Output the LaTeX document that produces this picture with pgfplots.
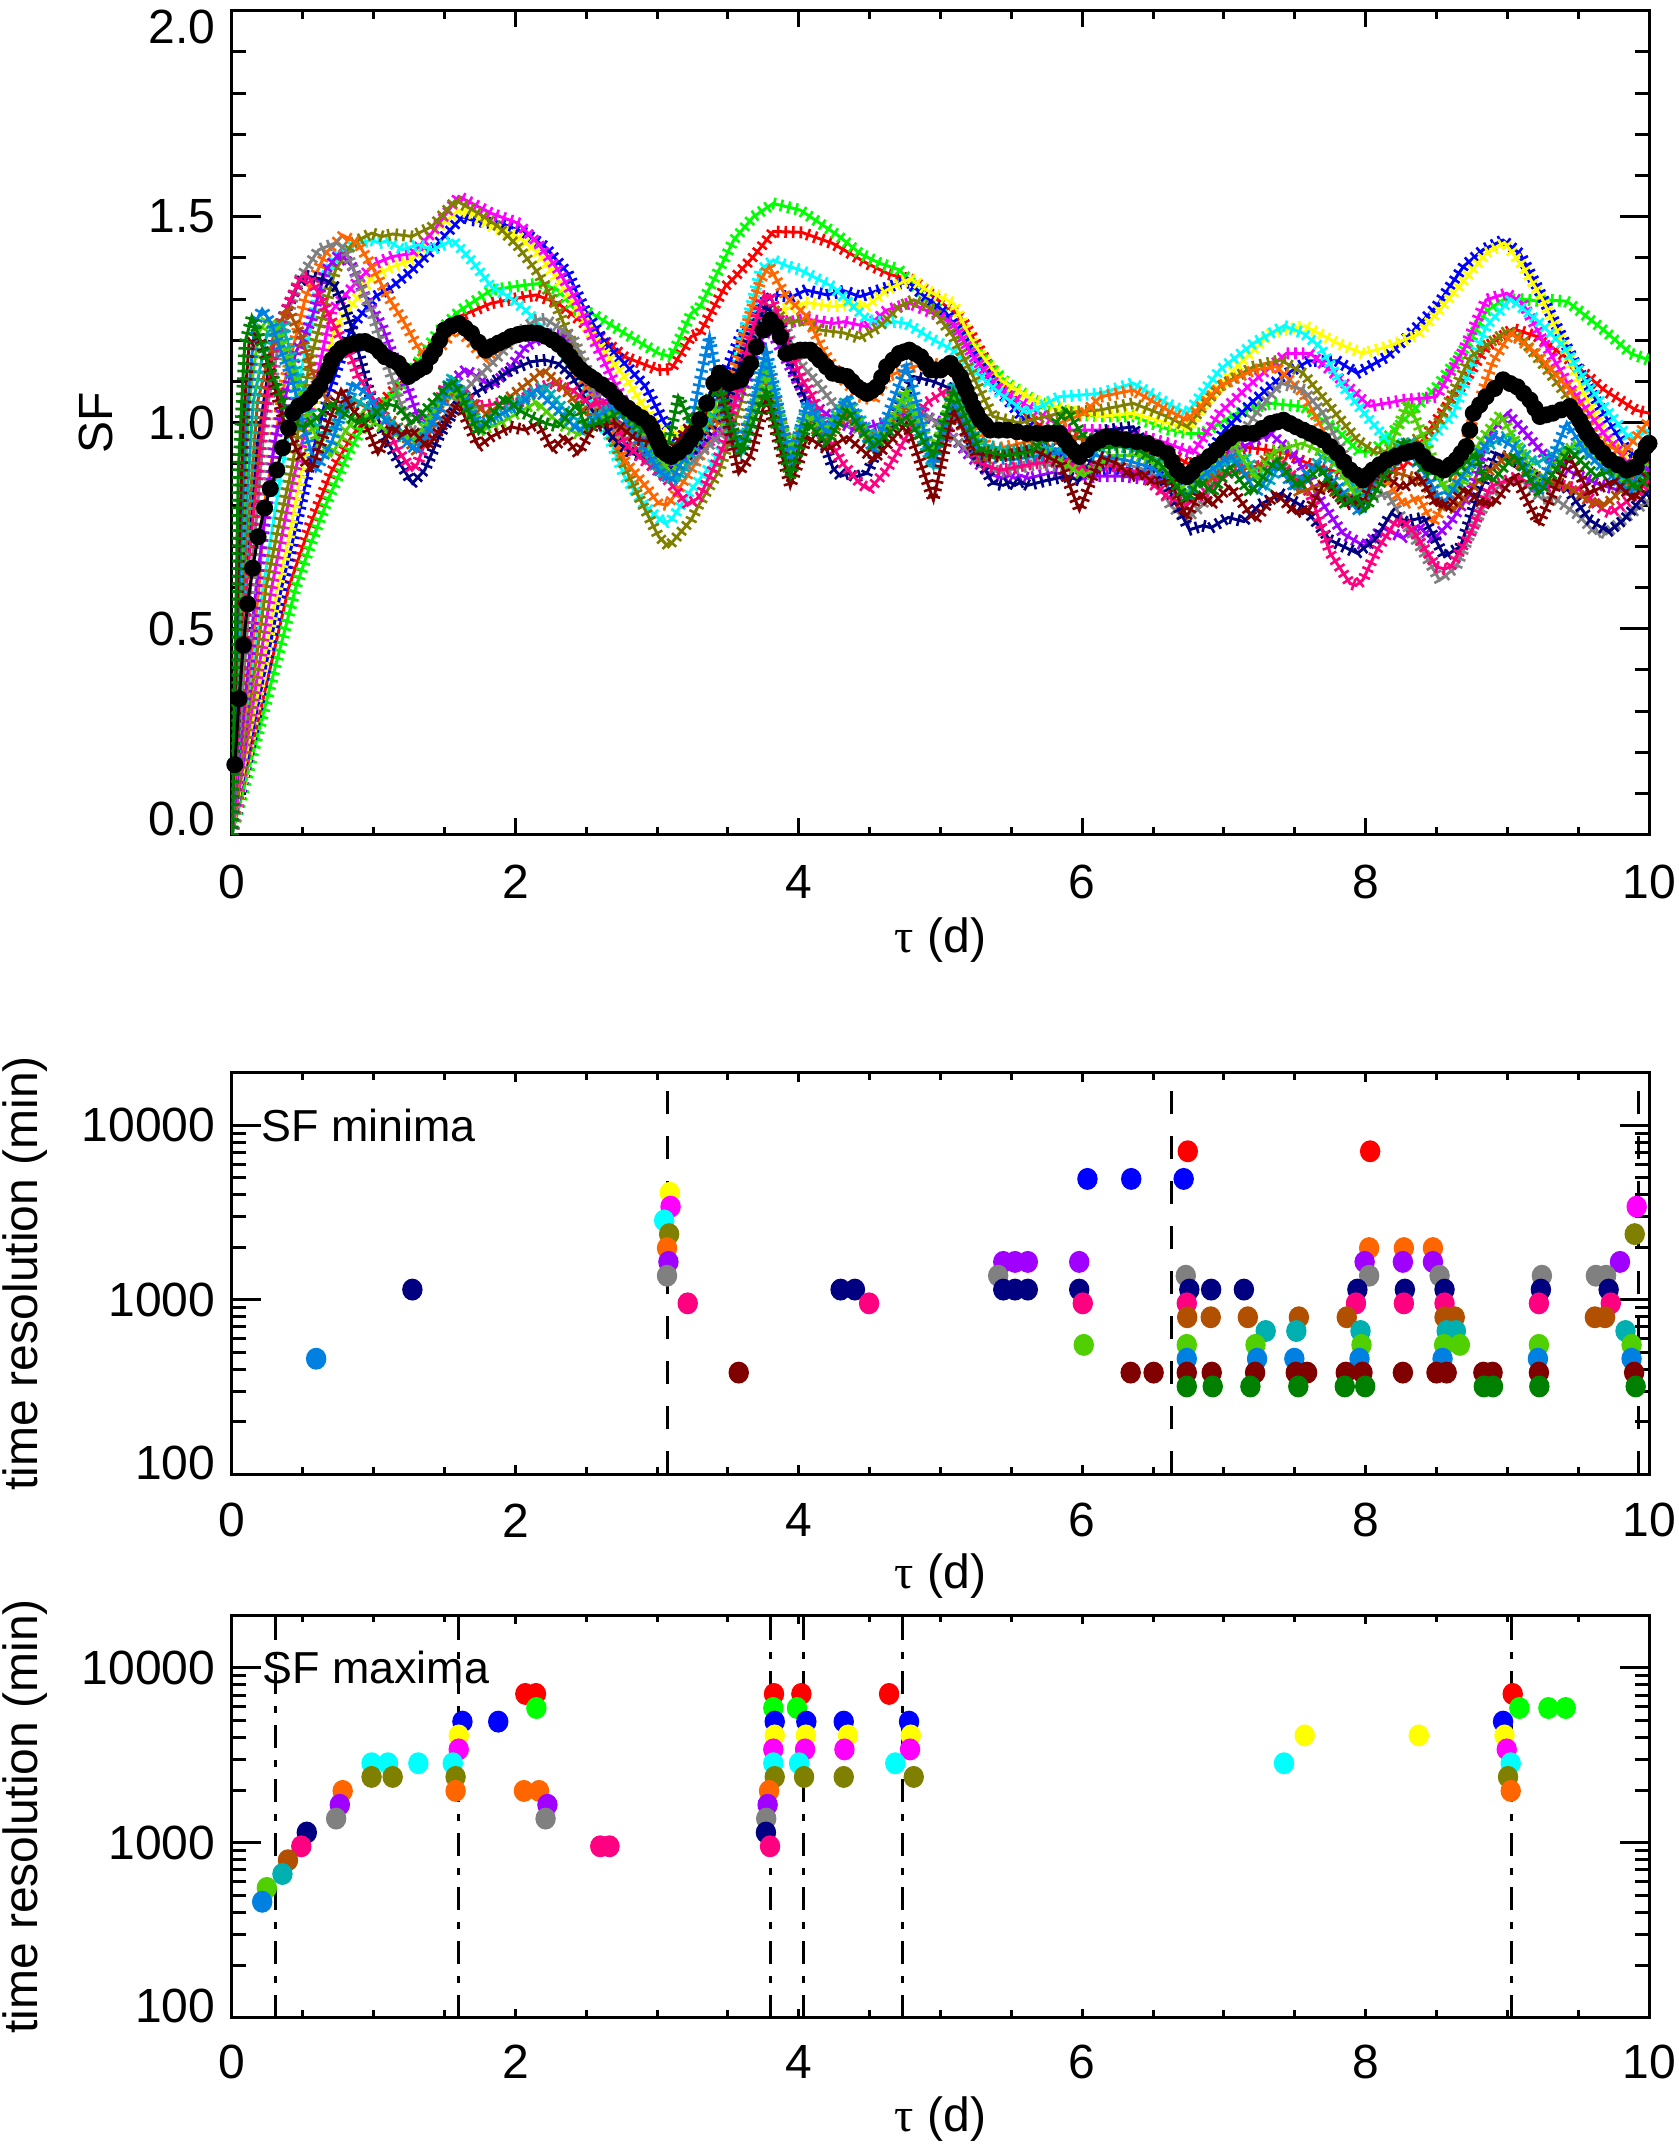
\documentclass[12pt,border=0pt]{standalone}
\usepackage{fontspec}
\setmainfont{Liberation Sans}
\newfontfamily\taufont{Liberation Serif}
\usepackage{pgfplots}
\pgfplotsset{compat=1.18}
\usetikzlibrary{decorations.pathreplacing,decorations.pathmorphing}
\definecolor{cR}{HTML}{FF0000}
\definecolor{cG}{HTML}{00FF00}
\definecolor{cB}{HTML}{0000FF}
\definecolor{cY}{HTML}{FFFF00}
\definecolor{cM}{HTML}{FF00FF}
\definecolor{cC}{HTML}{00FFFF}
\definecolor{cO}{HTML}{808000}
\definecolor{cOr}{HTML}{FF6600}
\definecolor{cP}{HTML}{A000FF}
\definecolor{cGy}{HTML}{808080}
\definecolor{cN}{HTML}{000080}
\definecolor{cPk}{HTML}{FF0080}
\definecolor{cBr}{HTML}{B05000}
\definecolor{cT}{HTML}{00B0B0}
\definecolor{cYG}{HTML}{50D000}
\definecolor{cD}{HTML}{0080E0}
\definecolor{cMa}{HTML}{800000}
\definecolor{cDG}{HTML}{008000}
\pgfplotsset{
  hair/.style={postaction={draw, line width=0.65pt, decorate,
      decoration={ticks, segment length=1.9pt, amplitude=1.5pt}}},
  sdot/.style={color=#1, only marks, mark=*, mark size=2.4pt, mark options={fill=#1, draw=#1, line width=0.3pt, yscale=1.08}},
}
\newcommand{\taulab}{{\taufont τ} (d)}
\begin{document}
\fontsize{12}{14.4}\selectfont
\begin{tikzpicture}
\useasboundingbox (0,0) rectangle (419.75pt,537.5pt);
% ================= TOP PANEL =================
\begin{axis}[scale only axis, width=354.25pt, height=206pt, at={(58pt,328.825pt)}, anchor=south west,
  xmin=0, xmax=10, ymin=0, ymax=2,
  axis line style={line width=0.75pt},
  tick style={black, line width=0.75pt},
  major tick length=7.25pt, minor tick length=3.6pt,
  xtick={0,2,4,6,8,10}, xticklabels={0,2,4,6,8,10}, minor x tick num=3,
  ytick={0,0.5,1,1.5,2},
  yticklabels={\raisebox{4pt}[8.6pt][0pt]{0.0},0.5,1.0,1.5,\raisebox{-4pt}[8.6pt][0pt]{2.0}},
  minor y tick num=4,
  xtick style={/pgfplots/major tick length=4.1pt, /pgfplots/minor tick length=2pt},
  ylabel={SF}, ylabel style={at={(axis description cs:-0.096,0.5)}, anchor=center},
  xlabel={\taulab}, xlabel style={at={(axis description cs:0.5,-0.1274)}, anchor=center},
  xticklabel style={anchor=center, yshift=-11.75pt},
  every axis plot/.append style={line width=0.75pt},
]
% red
\addplot[cR, hair] coordinates {(0,0) (0.40,0.60) (0.55,0.75) (0.70,0.88) (0.85,0.97) (1.0,1.03) (1.2,1.10) (1.4,1.18) (1.6,1.257) (1.83,1.29) (2.07,1.306) (2.145,1.31) (2.30,1.29) (2.54,1.225) (2.77,1.16) (3.01,1.128) (3.10,1.13) (3.24,1.209) (3.30,1.217) (3.48,1.33) (3.54,1.35) (3.68,1.403) (3.82,1.464) (4.02,1.462) (4.24,1.435) (4.48,1.387) (4.64,1.36) (4.81,1.346) (4.95,1.306) (5.14,1.257) (5.28,1.176) (5.42,1.088) (5.61,1.015) (5.8,0.97) (6.0,0.96) (6.2,0.955) (6.4,0.95) (6.6,0.93) (6.75,0.90) (6.9,0.915) (7.16,0.94) (7.4,0.93) (7.6,0.90) (7.75,0.885) (8.03,0.86) (8.15,0.877) (8.27,0.893) (8.50,1.006) (8.69,1.095) (8.85,1.184) (9.04,1.228) (9.21,1.209) (9.44,1.152) (9.68,1.08) (9.91,1.03) (10.0,1.023)};
% green
\addplot[cG, hair] coordinates {(0,0) (0.45,0.60) (0.55,0.70) (0.656,0.796) (0.82,0.925) (0.94,1.0) (1.05,1.04) (1.15,1.07) (1.3,1.14) (1.45,1.22) (1.6,1.27) (1.83,1.322) (2.07,1.334) (2.18,1.338) (2.30,1.322) (2.42,1.274) (2.54,1.265) (2.77,1.217) (3.01,1.168) (3.10,1.16) (3.24,1.265) (3.30,1.28) (3.48,1.40) (3.54,1.443) (3.68,1.50) (3.82,1.532) (4.01,1.516) (4.15,1.484) (4.29,1.451) (4.43,1.411) (4.57,1.387) (4.71,1.371) (4.86,1.314) (5.04,1.257) (5.18,1.201) (5.33,1.144) (5.47,1.096) (5.66,1.055) (5.84,1.031) (6.0,1.02) (6.13,1.015) (6.36,1.015) (6.60,0.985) (6.74,0.974) (6.85,0.974) (7.09,1.023) (7.33,1.047) (7.56,1.039) (7.80,0.982) (7.95,0.93) (8.05,0.93) (8.27,1.006) (8.50,1.087) (8.74,1.20) (8.85,1.27) (8.97,1.298) (9.085,1.30) (9.21,1.296) (9.29,1.298) (9.412,1.295) (9.44,1.29) (9.68,1.225) (9.87,1.168) (10.0,1.152)};
% blue
\addplot[cB, hair] coordinates {(0,0) (0.35,0.60) (0.42,0.70) (0.55,0.90) (0.656,1.047) (0.76,1.15) (0.845,1.233) (1.01,1.306) (1.13,1.33) (1.27,1.37) (1.41,1.419) (1.626,1.50) (1.69,1.492) (1.83,1.484) (1.88,1.487) (2.07,1.46) (2.21,1.427) (2.37,1.363) (2.49,1.274) (2.63,1.193) (2.77,1.144) (2.92,1.087) (3.05,1.0) (3.15,0.96) (3.30,1.00) (3.48,1.12) (3.60,1.22) (3.70,1.28) (3.83,1.31) (3.95,1.305) (4.05,1.322) (4.2,1.31) (4.32,1.32) (4.43,1.306) (4.57,1.322) (4.71,1.338) (4.78,1.34) (4.86,1.314) (5.04,1.266) (5.18,1.193) (5.33,1.112) (5.47,1.055) (5.61,1.0) (5.8,0.93) (6.04,0.88) (6.2,0.89) (6.35,0.875) (6.5,0.89) (6.72,0.86) (6.85,0.90) (7.0,0.98) (7.2,1.05) (7.4,1.11) (7.6,1.15) (7.8,1.15) (7.94,1.12) (8.15,1.16) (8.27,1.2) (8.50,1.282) (8.69,1.379) (8.83,1.42) (8.97,1.443) (9.09,1.41) (9.21,1.33) (9.35,1.233) (9.49,1.136) (9.68,1.023) (9.87,0.917) (10.0,0.93)};
% yellow
\addplot[cY, hair] coordinates {(0,0) (0.32,0.60) (0.40,0.72) (0.49,0.885) (0.60,1.08) (0.73,1.233) (0.89,1.306) (0.99,1.354) (1.13,1.378) (1.27,1.395) (1.41,1.46) (1.60,1.516) (1.69,1.508) (1.83,1.476) (2.02,1.452) (2.16,1.411) (2.30,1.346) (2.44,1.274) (2.54,1.21) (2.77,1.112) (3.01,0.982) (3.09,0.966) (3.24,0.99) (3.48,1.047) (3.60,1.15) (3.70,1.23) (3.83,1.27) (3.95,1.28) (4.05,1.292) (4.24,1.282) (4.35,1.287) (4.48,1.282) (4.62,1.322) (4.79,1.35) (4.90,1.322) (5.09,1.29) (5.23,1.193) (5.42,1.104) (5.66,1.055) (5.89,1.031) (6.13,1.015) (6.36,1.023) (6.60,0.999) (6.75,0.985) (6.85,1.04) (7.09,1.136) (7.33,1.217) (7.57,1.235) (7.80,1.193) (7.98,1.168) (8.15,1.184) (8.375,1.215) (8.62,1.314) (8.85,1.411) (8.98,1.437) (9.11,1.379) (9.25,1.298) (9.40,1.184) (9.54,1.071) (9.68,0.974) (9.87,0.901) (10.0,0.925)};
% magenta
\addplot[cM, hair] coordinates {(0,0) (0.28,0.60) (0.42,0.845) (0.56,1.047) (0.70,1.27) (0.89,1.346) (1.01,1.386) (1.13,1.403) (1.27,1.411) (1.41,1.46) (1.60,1.549) (1.83,1.508) (2.02,1.484) (2.16,1.435) (2.30,1.371) (2.44,1.29) (2.54,1.21) (2.77,1.047) (3.01,0.925) (3.09,0.90) (3.20,0.91) (3.48,0.982) (3.65,1.15) (3.82,1.25) (3.95,1.245) (4.044,1.252) (4.24,1.241) (4.32,1.245) (4.48,1.233) (4.62,1.273) (4.785,1.29) (4.95,1.265) (5.09,1.241) (5.23,1.16) (5.42,1.08) (5.66,1.031) (5.89,0.982) (6.13,0.982) (6.36,0.974) (6.60,0.95) (6.78,0.926) (6.97,1.023) (7.21,1.10) (7.44,1.168) (7.61,1.168) (7.80,1.112) (8.03,1.04) (8.27,1.055) (8.50,1.063) (8.69,1.176) (8.85,1.298) (8.996,1.314) (9.11,1.29) (9.25,1.2) (9.44,1.087) (9.68,0.974) (9.87,0.893) (9.913,0.885) (10.0,0.89)};
% cyan
\addplot[cC, hair] coordinates {(0,0) (0.22,0.60) (0.35,0.885) (0.49,1.128) (0.62,1.33) (0.75,1.411) (0.89,1.435) (0.985,1.443) (1.04,1.436) (1.101,1.442) (1.2,1.42) (1.315,1.432) (1.41,1.419) (1.558,1.443) (1.69,1.394) (1.83,1.33) (1.95,1.306) (2.07,1.274) (2.21,1.225) (2.30,1.193) (2.42,1.128) (2.54,1.047) (2.66,0.966) (2.77,0.869) (2.92,0.796) (3.05,0.756) (3.10,0.764) (3.24,0.837) (3.39,0.901) (3.48,0.95) (3.60,1.2) (3.73,1.371) (3.82,1.395) (3.92,1.38) (4.002,1.372) (4.24,1.33) (4.36,1.29) (4.48,1.25) (4.62,1.241) (4.681,1.245) (4.76,1.241) (4.95,1.201) (5.09,1.176) (5.23,1.128) (5.42,1.071) (5.61,1.023) (5.84,1.063) (6.13,1.071) (6.36,1.096) (6.60,1.047) (6.74,1.023) (6.97,1.128) (7.21,1.193) (7.424,1.235) (7.56,1.217) (7.68,1.184) (7.84,1.087) (8.03,1.006) (8.15,0.958) (8.38,0.926) (8.62,1.023) (8.85,1.233) (9.024,1.30) (9.21,1.249) (9.40,1.184) (9.58,1.087) (9.72,1.023) (9.87,0.958) (10.0,0.982)};
% olive
\addplot[cO, hair] coordinates {(0,0) (0.24,0.60) (0.33,0.75) (0.42,0.885) (0.55,1.15) (0.73,1.37) (0.85,1.435) (0.985,1.46) (1.06,1.452) (1.134,1.458) (1.27,1.452) (1.41,1.476) (1.578,1.54) (1.74,1.508) (1.88,1.476) (2.02,1.427) (2.16,1.363) (2.30,1.274) (2.44,1.16) (2.58,1.047) (2.73,0.925) (2.87,0.82) (3.01,0.724) (3.08,0.699) (3.24,0.764) (3.30,0.804) (3.44,0.885) (3.59,1.047) (3.73,1.225) (3.83,1.274) (3.91,1.241) (4.037,1.25) (4.15,1.225) (4.317,1.218) (4.43,1.205) (4.57,1.233) (4.71,1.282) (4.811,1.298) (4.95,1.274) (5.09,1.209) (5.23,1.112) (5.37,1.015) (5.56,0.999) (5.84,1.023) (6.13,1.031) (6.36,1.047) (6.60,1.015) (6.74,0.99) (6.97,1.088) (7.21,1.136) (7.40,1.152) (7.56,1.12) (7.75,1.039) (7.94,0.958) (8.08,0.926) (8.27,0.942) (8.50,0.99) (8.74,1.16) (9.005,1.225) (9.11,1.201) (9.30,1.12) (9.44,1.055) (9.68,0.926) (9.87,0.828) (9.90,0.825) (10.0,0.836)};
% orange
\addplot[cOr, hair] coordinates {(0,0) (0.19,0.60) (0.23,0.804) (0.37,1.096) (0.52,1.306) (0.66,1.411) (0.781,1.455) (0.89,1.435) (0.99,1.378) (1.10,1.306) (1.22,1.241) (1.31,1.184) (1.39,1.152) (1.50,1.193) (1.578,1.233) (1.69,1.193) (1.79,1.152) (1.93,1.193) (2.06,1.217) (2.12,1.21) (2.167,1.215) (2.30,1.193) (2.40,1.144) (2.49,1.087) (2.63,1.031) (2.77,0.909) (2.92,0.845) (3.01,0.804) (3.07,0.80) (3.10,0.812) (3.24,0.885) (3.39,0.966) (3.48,1.047) (3.60,1.2) (3.73,1.346) (3.79,1.38) (3.91,1.306) (4.06,1.257) (4.17,1.176) (4.29,1.112) (4.43,1.063) (4.53,1.055) (4.62,1.112) (4.81,1.136) (4.95,1.144) (5.09,1.128) (5.23,1.047) (5.33,0.934) (5.47,0.942) (5.66,0.958) (5.84,0.999) (6.0,1.02) (6.13,1.063) (6.36,1.079) (6.60,1.031) (6.74,1.006) (6.97,1.088) (7.21,1.128) (7.37,1.136) (7.56,1.071) (7.75,0.95) (7.90,0.87) (8.025,0.84) (8.15,0.86) (8.27,0.80) (8.37,0.82) (8.475,0.756) (8.6,0.83) (8.75,1.0) (8.9,1.15) (9.024,1.217) (9.2,1.17) (9.44,1.08) (9.63,0.958) (9.82,0.926) (10.0,1.006)};
% purple
\addplot[cP, hair] coordinates {(0,0) (0.17,0.60) (0.30,0.95) (0.45,1.17) (0.56,1.249) (0.66,1.37) (0.761,1.412) (0.85,1.378) (0.94,1.306) (1.06,1.233) (1.13,1.168) (1.22,1.104) (1.31,1.015) (1.36,1.007) (1.46,1.047) (1.55,1.10) (1.65,1.13) (1.83,1.087) (1.97,1.136) (2.07,1.184) (2.226,1.215) (2.35,1.21) (2.44,1.16) (2.54,1.087) (2.68,1.015) (2.82,0.982) (3.01,0.925) (3.08,0.885) (3.24,0.917) (3.48,0.999) (3.65,1.12) (3.78,1.24) (3.90,1.16) (4.05,1.06) (4.2,1.02) (4.4,0.98) (4.6,1.0) (4.8,1.03) (5.0,1.0) (5.2,0.92) (5.35,0.875) (5.443,0.865) (5.49,0.872) (5.526,0.865) (5.57,0.872) (5.616,0.865) (5.8,0.88) (5.979,0.862) (6.1,0.87) (6.3,0.87) (6.5,0.86) (6.6,0.87) (6.8,0.88) (7.0,0.92) (7.33,0.974) (7.51,0.917) (7.68,0.812) (7.84,0.731) (7.993,0.70) (8.12,0.745) (8.263,0.72) (8.37,0.75) (8.475,0.715) (8.6,0.76) (8.74,0.828) (8.88,0.974) (9.0,1.023) (9.11,0.982) (9.25,0.926) (9.45,0.88) (9.65,0.85) (9.795,0.835) (9.9,0.86) (10.0,0.89)};
% gray
\addplot[cGy, hair] coordinates {(0,0) (0.13,0.60) (0.23,1.0) (0.33,1.193) (0.47,1.346) (0.61,1.419) (0.735,1.437) (0.80,1.419) (0.89,1.346) (0.99,1.266) (1.08,1.16) (1.17,1.063) (1.27,0.982) (1.36,0.966) (1.46,0.999) (1.60,1.063) (1.74,1.112) (1.88,1.16) (2.02,1.217) (2.14,1.249) (2.213,1.252) (2.26,1.241) (2.40,1.209) (2.49,1.144) (2.58,1.047) (2.77,0.966) (3.01,0.885) (3.07,0.86) (3.15,0.87) (3.48,0.982) (3.65,1.18) (3.77,1.29) (3.91,1.225) (4.01,1.144) (4.13,1.096) (4.3,1.02) (4.5,0.96) (4.7,1.0) (4.9,1.02) (5.1,0.96) (5.3,0.90) (5.407,0.88) (5.55,0.89) (5.7,0.90) (5.9,0.89) (6.1,0.90) (6.3,0.90) (6.5,0.88) (6.62,0.80) (6.731,0.764) (6.85,0.80) (7.0,0.90) (7.21,1.015) (7.40,1.096) (7.56,1.08) (7.70,1.023) (7.85,0.92) (8.025,0.812) (8.15,0.83) (8.27,0.76) (8.40,0.69) (8.522,0.618) (8.64,0.65) (8.74,0.731) (8.88,0.828) (9.0,0.86) (9.1,0.86) (9.244,0.815) (9.32,0.82) (9.51,0.772) (9.625,0.731) (9.66,0.737) (9.697,0.73) (9.80,0.76) (10.0,0.812)};
% navy
\addplot[cN, hair] coordinates {(0,0) (0.10,0.60) (0.18,0.95) (0.28,1.18) (0.37,1.265) (0.47,1.338) (0.528,1.356) (0.66,1.346) (0.73,1.33) (0.80,1.274) (0.85,1.225) (0.92,1.136) (0.99,1.047) (1.08,0.966) (1.17,0.909) (1.273,0.853) (1.36,0.885) (1.46,0.966) (1.60,1.047) (1.83,1.096) (1.97,1.128) (2.11,1.148) (2.21,1.152) (2.30,1.144) (2.40,1.112) (2.54,1.031) (2.68,0.966) (2.82,0.925) (3.01,0.909) (3.10,0.885) (3.30,0.95) (3.48,1.047) (3.66,1.209) (3.768,1.285) (3.87,1.241) (3.96,1.128) (4.06,1.047) (4.15,0.982) (4.24,0.89) (4.295,0.87) (4.35,0.877) (4.396,0.868) (4.48,0.877) (4.60,0.966) (4.81,1.112) (4.95,1.10) (5.09,1.08) (5.25,0.925) (5.37,0.853) (5.443,0.848) (5.49,0.856) (5.526,0.848) (5.57,0.856) (5.616,0.848) (5.75,0.86) (5.89,0.87) (5.979,0.86) (6.05,0.9) (6.13,0.98) (6.36,0.99) (6.55,0.88) (6.756,0.74) (6.85,0.75) (6.910,0.745) (7.03,0.77) (7.141,0.76) (7.25,0.80) (7.40,0.828) (7.56,0.796) (7.75,0.715) (7.942,0.683) (8.08,0.72) (8.18,0.78) (8.277,0.76) (8.41,0.77) (8.557,0.675) (8.67,0.70) (8.78,0.812) (8.92,0.926) (9.09,0.90) (9.237,0.855) (9.40,0.85) (9.58,0.764) (9.715,0.735) (9.82,0.764) (10.0,0.836)};
% pink
\addplot[cPk, hair] coordinates {(0,0) (0.10,0.60) (0.20,0.95) (0.30,1.2) (0.40,1.29) (0.489,1.355) (0.54,1.354) (0.61,1.314) (0.70,1.249) (0.85,1.152) (0.89,1.112) (0.99,1.063) (1.08,1.007) (1.17,0.934) (1.27,0.885) (1.31,0.901) (1.41,0.999) (1.50,1.087) (1.60,1.079) (1.74,1.039) (1.88,1.047) (2.02,1.047) (2.14,1.079) (2.26,1.096) (2.40,1.08) (2.54,1.04) (2.599,1.05) (2.63,1.045) (2.664,1.05) (2.77,0.95) (2.9,0.91) (3.05,0.87) (3.15,0.83) (3.216,0.80) (3.3,0.82) (3.48,0.95) (3.65,1.2) (3.75,1.306) (3.797,1.31) (3.91,1.209) (4.01,1.112) (4.10,1.063) (4.20,0.966) (4.31,0.901) (4.43,0.853) (4.496,0.837) (4.62,0.885) (4.76,0.966) (4.90,1.047) (5.04,1.079) (5.15,1.0) (5.28,0.901) (5.42,0.885) (5.66,0.901) (5.89,0.909) (6.004,0.88) (6.15,0.90) (6.4,0.88) (6.6,0.82) (6.738,0.80) (6.9,0.84) (7.05,0.88) (7.21,0.893) (7.40,0.90) (7.61,0.828) (7.75,0.683) (7.89,0.61) (7.932,0.605) (7.98,0.618) (8.08,0.691) (8.22,0.764) (8.27,0.76) (8.35,0.73) (8.50,0.65) (8.557,0.645) (8.60,0.65) (8.74,0.731) (8.88,0.845) (9.07,0.869) (9.223,0.84) (9.35,0.85) (9.5,0.84) (9.68,0.788) (9.73,0.78) (9.85,0.81) (10.0,0.86)};
% brown
\addplot[cBr, hair] coordinates {(0,0) (0.08,0.6) (0.18,1.05) (0.3,1.22) (0.395,1.275) (0.49,1.209) (0.56,1.128) (0.66,1.06) (0.75,1.031) (0.87,1.05) (0.99,1.031) (1.15,1.00) (1.3,0.93) (1.45,1.04) (1.55,1.08) (1.65,1.06) (1.8,1.02) (1.95,1.06) (2.1,1.10) (2.2,1.128) (2.35,1.08) (2.5,1.02) (2.65,1.02) (2.8,0.98) (3.0,0.90) (3.1,0.88) (3.3,0.97) (3.44,1.02) (3.59,0.95) (3.77,1.13) (3.94,0.93) (4.06,1.00) (4.2,0.96) (4.34,1.03) (4.53,0.95) (4.76,1.04) (4.95,0.90) (5.09,1.02) (5.3,0.91) (5.5,0.93) (5.7,0.95) (5.9,0.97) (6.1,0.95) (6.3,0.96) (6.5,0.93) (6.741,0.86) (6.82,0.88) (6.907,0.86) (7.05,0.92) (7.169,0.87) (7.35,0.93) (7.529,0.83) (7.7,0.85) (7.867,0.81) (8.0,0.86) (8.2,0.88) (8.4,0.86) (8.557,0.79) (8.59,0.80) (8.629,0.79) (8.8,0.86) (9.0,0.92) (9.2,0.87) (9.4,0.85) (9.618,0.80) (9.65,0.81) (9.690,0.80) (9.85,0.85) (10.0,0.93)};
% teal
\addplot[cT, hair] coordinates {(0,0) (0.065,0.6) (0.15,1.05) (0.25,1.22) (0.356,1.242) (0.42,1.16) (0.49,1.096) (0.61,0.974) (0.7,0.98) (0.85,1.06) (1.0,1.03) (1.15,0.99) (1.3,0.95) (1.45,1.05) (1.55,1.11) (1.65,1.06) (1.75,0.99) (1.9,1.02) (2.05,1.06) (2.2,1.09) (2.35,1.03) (2.5,0.99) (2.65,1.03) (2.75,1.05) (2.9,0.95) (3.05,0.87) (3.15,0.86) (3.3,0.97) (3.44,1.04) (3.59,0.92) (3.77,1.15) (3.94,0.91) (4.06,1.04) (4.2,0.99) (4.34,1.06) (4.53,0.96) (4.76,1.06) (4.95,0.89) (5.09,1.09) (5.28,0.95) (5.5,0.93) (5.75,0.94) (6.0,0.92) (6.2,0.95) (6.4,0.93) (6.6,0.90) (6.8,0.86) (7.0,0.90) (7.15,0.92) (7.295,0.84) (7.4,0.90) (7.511,0.85) (7.7,0.92) (7.85,0.88) (7.964,0.82) (8.1,0.88) (8.3,0.96) (8.45,0.90) (8.572,0.83) (8.6,0.84) (8.637,0.83) (8.8,0.93) (9.0,0.97) (9.2,0.90) (9.4,0.94) (9.6,0.93) (9.75,0.88) (9.834,0.86) (10.0,0.93)};
% yellowgreen
\addplot[cYG, hair] coordinates {(0,0) (0.055,0.6) (0.12,1.05) (0.19,1.22) (0.246,1.25) (0.32,1.22) (0.40,1.15) (0.50,1.05) (0.60,0.96) (0.70,0.92) (0.8,0.98) (0.9,1.02) (1.0,1.0) (1.15,0.97) (1.3,0.96) (1.45,1.04) (1.55,1.08) (1.65,1.05) (1.75,0.98) (1.9,1.0) (2.05,1.03) (2.15,1.05) (2.3,1.0) (2.45,0.97) (2.6,1.01) (2.7,1.03) (2.85,0.98) (3.02,0.91) (3.1,0.88) (3.25,0.95) (3.4,1.05) (3.59,0.94) (3.77,1.12) (3.94,0.92) (4.06,1.02) (4.2,0.97) (4.34,1.05) (4.53,0.93) (4.76,1.08) (4.95,0.92) (5.09,1.07) (5.28,0.93) (5.5,0.92) (5.75,0.93) (6.011,0.87) (6.2,0.92) (6.4,0.92) (6.6,0.88) (6.738,0.83) (6.85,0.88) (7.05,0.96) (7.223,0.86) (7.35,0.93) (7.55,0.95) (7.75,0.92) (7.971,0.80) (8.1,0.88) (8.3,1.05) (8.45,0.93) (8.554,0.84) (8.61,0.85) (8.665,0.84) (8.8,0.95) (8.95,1.02) (9.05,0.96) (9.223,0.85) (9.4,0.93) (9.55,0.96) (9.7,0.90) (9.877,0.83) (10.0,0.92)};
% dodgerblue
\addplot[cD, hair] coordinates {(0,0) (0.05,0.6) (0.1,1.0) (0.16,1.24) (0.213,1.275) (0.28,1.24) (0.35,1.17) (0.42,1.112) (0.50,1.0) (0.594,0.885) (0.70,0.95) (0.85,1.096) (0.95,1.07) (1.05,1.02) (1.15,0.98) (1.3,0.93) (1.45,1.02) (1.55,1.10) (1.65,1.05) (1.75,0.99) (1.9,1.02) (2.05,1.05) (2.15,1.08) (2.3,1.03) (2.45,0.98) (2.6,1.02) (2.7,1.04) (2.85,0.97) (3.02,0.88) (3.1,0.86) (3.2,0.92) (3.3,1.1) (3.37,1.21) (3.45,1.05) (3.59,0.93) (3.77,1.18) (3.94,0.90) (4.06,1.05) (4.2,0.97) (4.34,1.06) (4.53,0.93) (4.76,1.14) (4.95,0.90) (5.09,1.05) (5.28,0.92) (5.5,0.91) (5.7,0.92) (5.9,0.93) (6.1,0.92) (6.3,0.91) (6.5,0.89) (6.738,0.82) (6.85,0.87) (7.05,0.92) (7.234,0.83) (7.37,0.90) (7.497,0.84) (7.65,0.90) (7.80,0.85) (7.957,0.78) (8.1,0.88) (8.3,0.93) (8.45,0.86) (8.543,0.80) (8.7,0.88) (8.9,0.97) (9.05,0.94) (9.216,0.83) (9.42,1.0) (9.55,0.93) (9.7,0.88) (9.877,0.83) (10.0,0.96)};
% maroon
\addplot[cMa, hair] coordinates {(0,0) (0.04,0.6) (0.08,1.0) (0.12,1.192) (0.19,1.209) (0.28,1.112) (0.37,0.999) (0.47,0.925) (0.56,0.885) (0.66,0.982) (0.77,1.08) (0.85,1.031) (0.94,0.999) (1.03,0.925) (1.13,0.99) (1.2,0.97) (1.27,0.982) (1.38,0.94) (1.50,1.00) (1.60,1.047) (1.74,0.942) (1.83,0.966) (1.97,0.99) (2.07,0.982) (2.16,1.0) (2.26,0.934) (2.35,0.966) (2.44,0.925) (2.55,0.99) (2.70,1.0) (2.85,0.96) (3.0,0.95) (3.07,0.92) (3.2,0.98) (3.30,1.02) (3.44,1.095) (3.576,0.877) (3.66,0.92) (3.77,1.063) (3.94,0.845) (4.06,0.966) (4.20,0.934) (4.34,0.966) (4.53,0.909) (4.76,0.999) (4.95,0.812) (5.09,1.031) (5.25,0.925) (5.42,0.917) (5.66,0.934) (5.85,0.90) (5.98,0.788) (6.13,0.917) (6.25,0.90) (6.342,0.869) (6.42,0.88) (6.504,0.853) (6.62,0.86) (6.738,0.772) (6.83,0.83) (6.914,0.80) (7.04,0.845) (7.22,0.764) (7.37,0.828) (7.507,0.78) (7.55,0.79) (7.587,0.78) (7.72,0.86) (7.86,0.80) (7.92,0.81) (7.978,0.80) (8.08,0.885) (8.263,0.84) (8.38,0.87) (8.50,0.80) (8.54,0.81) (8.572,0.79) (8.7,0.84) (8.831,0.80) (8.86,0.81) (8.896,0.80) (9.05,0.87) (9.223,0.756) (9.44,0.918) (9.58,0.828) (9.75,0.86) (9.895,0.813) (10.0,0.88)};
% darkgreen
\addplot[cDG, hair] coordinates {(0,0) (0.03,0.6) (0.045,0.885) (0.09,1.193) (0.14,1.257) (0.2,1.2) (0.28,1.12) (0.42,0.999) (0.515,0.99) (0.61,1.015) (0.70,1.047) (0.80,1.02) (0.89,0.999) (0.99,1.015) (1.08,1.047) (1.17,1.039) (1.27,0.999) (1.41,1.047) (1.55,1.10) (1.60,1.079) (1.74,0.974) (1.83,1.015) (1.93,1.063) (2.02,1.031) (2.11,1.015) (2.21,0.999) (2.30,0.99) (2.40,1.031) (2.44,1.047) (2.49,0.99) (2.6,1.0) (2.75,1.03) (2.9,0.98) (3.08,0.95) (3.15,1.063) (3.24,0.999) (3.35,1.05) (3.44,1.087) (3.59,0.926) (3.77,1.079) (3.94,0.869) (4.06,0.999) (4.20,0.95) (4.34,1.031) (4.53,0.942) (4.76,1.015) (4.95,0.918) (5.09,1.079) (5.28,0.934) (5.45,0.92) (5.65,0.93) (5.89,1.031) (6.0,0.97) (6.15,0.94) (6.36,0.942) (6.55,0.90) (6.738,0.812) (6.83,0.86) (6.921,0.83) (7.04,0.893) (7.187,0.828) (7.37,0.91) (7.525,0.845) (7.68,0.89) (7.853,0.80) (7.93,0.82) (7.997,0.788) (8.1,0.85) (8.27,0.958) (8.42,0.88) (8.6,0.87) (8.78,0.926) (8.834,0.86) (8.87,0.87) (8.899,0.86) (9.05,0.92) (9.226,0.829) (9.44,0.934) (9.63,0.869) (9.78,0.89) (9.906,0.84) (10.0,0.87)};
% black mean
\addplot[black, line width=0.75pt, mark=*, mark size=1.75pt] coordinates {(0.02,0.17) (0.05,0.33) (0.08,0.46) (0.11,0.56) (0.146,0.647) (0.184,0.723) (0.23,0.793) (0.27,0.84) (0.316,0.885) (0.357,0.939) (0.398,0.987) (0.43,1.024) (0.47,1.04) (0.515,1.047) (0.55,1.06) (0.586,1.075) (0.62,1.09) (0.656,1.112) (0.68,1.13) (0.703,1.152) (0.74,1.168) (0.774,1.18) (0.82,1.188) (0.868,1.193) (0.905,1.196) (0.939,1.197) (0.975,1.19) (1.009,1.185) (1.045,1.172) (1.08,1.16) (1.13,1.152) (1.174,1.144) (1.21,1.128) (1.244,1.112) (1.28,1.12) (1.315,1.128) (1.36,1.136) (1.40,1.16) (1.43,1.176) (1.465,1.2) (1.50,1.225) (1.55,1.235) (1.60,1.241) (1.645,1.23) (1.69,1.217) (1.74,1.195) (1.79,1.176) (1.835,1.185) (1.88,1.193) (1.925,1.2) (1.97,1.209) (2.02,1.214) (2.07,1.217) (2.115,1.218) (2.16,1.217) (2.21,1.21) (2.26,1.201) (2.305,1.19) (2.35,1.176) (2.385,1.16) (2.42,1.144) (2.455,1.13) (2.49,1.12) (2.525,1.112) (2.56,1.104) (2.61,1.092) (2.66,1.079) (2.705,1.062) (2.75,1.047) (2.795,1.035) (2.84,1.023) (2.89,1.012) (2.94,0.999) (2.965,0.985) (2.99,0.966) (3.01,0.95) (3.03,0.934) (3.065,0.925) (3.10,0.918) (3.15,0.928) (3.20,0.942) (3.235,0.958) (3.27,0.974) (3.30,1.007) (3.35,1.047) (3.40,1.096) (3.44,1.12) (3.475,1.11) (3.51,1.096) (3.55,1.10) (3.59,1.104) (3.625,1.125) (3.66,1.144) (3.70,1.184) (3.75,1.225) (3.80,1.249) (3.84,1.233) (3.87,1.209) (3.91,1.168) (3.96,1.172) (4.01,1.176) (4.045,1.176) (4.08,1.176) (4.115,1.165) (4.15,1.152) (4.195,1.136) (4.24,1.12) (4.29,1.116) (4.34,1.112) (4.375,1.10) (4.41,1.087) (4.445,1.079) (4.48,1.071) (4.515,1.078) (4.55,1.087) (4.585,1.11) (4.62,1.136) (4.665,1.152) (4.71,1.168) (4.745,1.172) (4.78,1.176) (4.82,1.168) (4.86,1.16) (4.895,1.144) (4.93,1.128) (4.965,1.128) (5.00,1.128) (5.035,1.136) (5.07,1.144) (5.105,1.128) (5.14,1.112) (5.16,1.095) (5.18,1.079) (5.205,1.059) (5.23,1.039) (5.255,1.023) (5.28,1.007) (5.315,0.995) (5.35,0.982) (5.41,0.982) (5.47,0.982) (5.54,0.978) (5.61,0.974) (5.68,0.974) (5.75,0.974) (5.80,0.974) (5.84,0.974) (5.875,0.958) (5.91,0.942) (5.945,0.93) (5.98,0.918) (6.03,0.934) (6.08,0.95) (6.125,0.958) (6.17,0.966) (6.24,0.962) (6.31,0.958) (6.385,0.954) (6.46,0.95) (6.53,0.938) (6.60,0.926) (6.635,0.905) (6.67,0.885) (6.71,0.872) (6.74,0.869) (6.775,0.88) (6.81,0.897) (6.855,0.905) (6.90,0.918) (6.95,0.934) (6.996,0.95) (7.04,0.962) (7.09,0.974) (7.15,0.974) (7.21,0.974) (7.27,0.986) (7.33,0.998) (7.375,1.002) (7.42,1.006) (7.465,0.998) (7.51,0.99) (7.56,0.982) (7.61,0.974) (7.655,0.966) (7.70,0.958) (7.75,0.942) (7.80,0.926) (7.845,0.905) (7.89,0.885) (7.935,0.873) (7.98,0.861) (8.015,0.873) (8.05,0.885) (8.10,0.898) (8.15,0.91) (8.21,0.918) (8.27,0.926) (8.315,0.93) (8.36,0.934) (8.405,0.918) (8.45,0.901) (8.50,0.893) (8.55,0.885) (8.595,0.897) (8.64,0.91) (8.675,0.926) (8.71,0.942) (8.735,0.982) (8.76,1.023) (8.805,1.043) (8.85,1.063) (8.91,1.083) (8.97,1.104) (9.02,1.095) (9.07,1.087) (9.115,1.071) (9.16,1.055) (9.195,1.035) (9.23,1.015) (9.275,1.019) (9.32,1.023) (9.38,1.031) (9.44,1.039) (9.475,1.023) (9.51,1.006) (9.535,0.99) (9.56,0.974) (9.595,0.958) (9.63,0.942) (9.675,0.926) (9.72,0.91) (9.78,0.898) (9.84,0.885) (9.875,0.889) (9.91,0.893) (9.945,0.918) (9.98,0.942) (10.0,0.95)};
\end{axis}
% ================= MIDDLE PANEL (minima) =================
\begin{axis}[ymode=log, log basis y=10,
  scale only axis, width=354.25pt, height=100.4pt, at={(58pt,168.9pt)}, anchor=south west,
  xmin=0, xmax=10, ymin=100, ymax=20000,
  axis line style={line width=0.75pt},
  tick style={black, line width=0.75pt},
  major tick length=7.25pt, minor tick length=3.6pt,
  xtick={0,2,4,6,8,10}, xticklabels={0,2,4,6,8,10}, minor x tick num=3,
  ytick={100,1000,10000},
  yticklabels={\raisebox{3pt}[8.6pt][0pt]{100},1000,10000},
  minor ytick={200,300,400,500,600,700,800,900,2000,3000,4000,5000,6000,7000,8000,9000,20000},
  xtick style={/pgfplots/major tick length=2.25pt, /pgfplots/minor tick length=1.8pt},
  ylabel={time resolution (min)},
  ylabel style={at={(axis description cs:-0.146,0.5)}, anchor=center},
  xlabel={\taulab}, xlabel style={at={(axis description cs:0.5,-0.252)}, anchor=center},
  xticklabel style={anchor=center, yshift=-11.5pt},
]
\addplot[black, line width=0.75pt, dash pattern=on 5.75pt off 5.5pt] coordinates {(3.076,100) (3.076,20000)};
\addplot[black, line width=0.75pt, dash pattern=on 5.75pt off 5.5pt] coordinates {(6.63,100) (6.63,20000)};
\addplot[black, line width=0.75pt, dash pattern=on 5.75pt off 5.5pt] coordinates {(9.925,100) (9.925,20000)};
\addplot[sdot=cR] coordinates {(6.745,7100) (8.032,7100)};
\addplot[sdot=cB] coordinates {(6.037,4930) (6.346,4930) (6.716,4930)};
\addplot[sdot=cY] coordinates {(3.09,4110)};
\addplot[sdot=cM] coordinates {(3.095,3420) (9.913,3420)};
\addplot[sdot=cC] coordinates {(3.05,2850)};
\addplot[sdot=cO] coordinates {(3.085,2380) (9.899,2380)};
\addplot[sdot=cOr] coordinates {(3.07,1980) (8.025,1980) (8.270,1980) (8.475,1980)};
\addplot[sdot=cP] coordinates {(3.08,1650) (5.443,1650) (5.526,1650) (5.616,1650) (5.979,1650) (7.993,1650) (8.263,1650) (8.475,1650) (9.795,1650)};
\addplot[sdot=cGy] coordinates {(3.07,1375) (5.407,1375) (6.731,1375) (8.025,1375) (8.522,1375) (9.244,1375) (9.625,1375) (9.697,1375)};
\addplot[sdot=cN] coordinates {(1.273,1145) (4.295,1145) (4.396,1145) (5.443,1145) (5.526,1145) (5.616,1145) (5.979,1145) (6.756,1145) (6.910,1145) (7.141,1145) (7.942,1145) (8.277,1145) (8.557,1145) (9.237,1145) (9.715,1145)};
\addplot[sdot=cPk] coordinates {(3.216,955) (4.496,955) (6.004,955) (6.738,955) (7.932,955) (8.270,955) (8.557,955) (9.223,955) (9.730,955)};
\addplot[sdot=cBr] coordinates {(6.741,795) (6.907,795) (7.169,795) (7.529,795) (7.867,795) (8.557,795) (8.629,795) (9.618,795) (9.690,795)};
\addplot[sdot=cT] coordinates {(7.295,663) (7.511,663) (7.964,663) (8.572,663) (8.637,663) (9.834,663)};
\addplot[sdot=cYG] coordinates {(6.011,552) (6.738,552) (7.223,552) (7.971,552) (8.554,552) (8.665,552) (9.223,552) (9.877,552)};
\addplot[sdot=cD] coordinates {(0.594,460) (6.738,460) (7.234,460) (7.497,460) (7.957,460) (8.543,460) (9.216,460) (9.877,460)};
\addplot[sdot=cMa] coordinates {(3.576,383) (6.342,383) (6.504,383) (6.738,383) (6.914,383) (7.220,383) (7.507,383) (7.587,383) (7.860,383) (7.978,383) (8.263,383) (8.500,383) (8.572,383) (8.831,383) (8.896,383) (9.223,383) (9.895,383)};
\addplot[sdot=cDG] coordinates {(6.738,319) (6.921,319) (7.187,319) (7.525,319) (7.853,319) (7.997,319) (8.834,319) (8.899,319) (9.226,319) (9.906,319)};
\node[anchor=west, inner sep=0pt, font=\fontsize{11.2}{13}\selectfont] at (axis cs:0.205,10000) {SF minima};
\end{axis}
% ================= BOTTOM PANEL (maxima) =================
\begin{axis}[ymode=log, log basis y=10,
  scale only axis, width=354.25pt, height=100.6pt, at={(58pt,33.08pt)}, anchor=south west,
  xmin=0, xmax=10, ymin=100, ymax=20000,
  axis line style={line width=0.75pt},
  tick style={black, line width=0.75pt},
  major tick length=7.25pt, minor tick length=3.6pt,
  xtick={0,2,4,6,8,10}, xticklabels={0,2,4,6,8,10}, minor x tick num=3,
  ytick={100,1000,10000},
  yticklabels={\raisebox{3pt}[8.6pt][0pt]{100},1000,10000},
  minor ytick={200,300,400,500,600,700,800,900,2000,3000,4000,5000,6000,7000,8000,9000,20000},
  xtick style={/pgfplots/major tick length=2.25pt, /pgfplots/minor tick length=1.8pt},
  ylabel={time resolution (min)},
  ylabel style={at={(axis description cs:-0.146,0.5)}, anchor=center},
  xlabel={\taulab}, xlabel style={at={(axis description cs:0.5,-0.251)}, anchor=center},
  xticklabel style={anchor=center, yshift=-11pt},
]
\addplot[black, line width=0.75pt, dash pattern=on 5.75pt off 3pt on 1.75pt off 3pt] coordinates {(0.31,100) (0.31,20000)};
\addplot[black, line width=0.75pt, dash pattern=on 5.75pt off 3pt on 1.75pt off 3pt] coordinates {(1.597,100) (1.597,20000)};
\addplot[black, line width=0.75pt, dash pattern=on 5.75pt off 3pt on 1.75pt off 3pt] coordinates {(3.80,100) (3.80,20000)};
\addplot[black, line width=0.75pt, dash pattern=on 5.75pt off 3pt on 1.75pt off 3pt] coordinates {(4.034,100) (4.034,20000)};
\addplot[black, line width=0.75pt, dash pattern=on 5.75pt off 3pt on 1.75pt off 3pt] coordinates {(4.735,100) (4.735,20000)};
\addplot[black, line width=0.75pt, dash pattern=on 5.75pt off 3pt on 1.75pt off 3pt] coordinates {(9.031,100) (9.031,20000)};
\addplot[sdot=cR] coordinates {(2.07,7100) (2.145,7100) (3.825,7100) (4.018,7100) (4.637,7100) (9.038,7100)};
\addplot[sdot=cG] coordinates {(2.148,5900) (3.82,5900) (3.987,5900) (9.085,5900) (9.29,5900) (9.412,5900)};
\addplot[sdot=cB] coordinates {(1.626,4930) (1.879,4930) (3.83,4930) (4.053,4930) (4.317,4930) (4.778,4930) (8.97,4930)};
\addplot[sdot=cY] coordinates {(1.600,4110) (3.83,4110) (4.05,4110) (4.347,4110) (4.790,4110) (7.570,4110) (8.375,4110) (8.98,4110)};
\addplot[sdot=cM] coordinates {(1.600,3420) (3.82,3420) (4.044,3420) (4.322,3420) (4.785,3420) (8.996,3420)};
\addplot[sdot=cC] coordinates {(0.985,2850) (1.101,2850) (1.315,2850) (1.558,2850) (3.82,2850) (4.002,2850) (4.681,2850) (7.424,2850) (9.024,2850)};
\addplot[sdot=cO] coordinates {(0.985,2380) (1.134,2380) (1.578,2380) (3.83,2380) (4.037,2380) (4.317,2380) (4.811,2380) (9.005,2380)};
\addplot[sdot=cOr] coordinates {(0.781,1980) (1.578,1980) (2.06,1980) (2.167,1980) (3.79,1980) (9.024,1980)};
\addplot[sdot=cP] coordinates {(0.761,1650) (2.226,1650) (3.78,1650)};
\addplot[sdot=cGy] coordinates {(0.735,1375) (2.213,1375) (3.77,1375)};
\addplot[sdot=cN] coordinates {(0.528,1145) (3.768,1145)};
\addplot[sdot=cPk] coordinates {(0.489,955) (2.599,955) (2.664,955) (3.797,955)};
\addplot[sdot=cBr] coordinates {(0.395,795)};
\addplot[sdot=cT] coordinates {(0.356,663)};
\addplot[sdot=cYG] coordinates {(0.246,552)};
\addplot[sdot=cD] coordinates {(0.213,460)};
\node[anchor=west, inner sep=0pt, font=\fontsize{11.2}{13}\selectfont] at (axis cs:0.21,10000) {SF maxima};
\end{axis}
\end{tikzpicture}
\end{document}
